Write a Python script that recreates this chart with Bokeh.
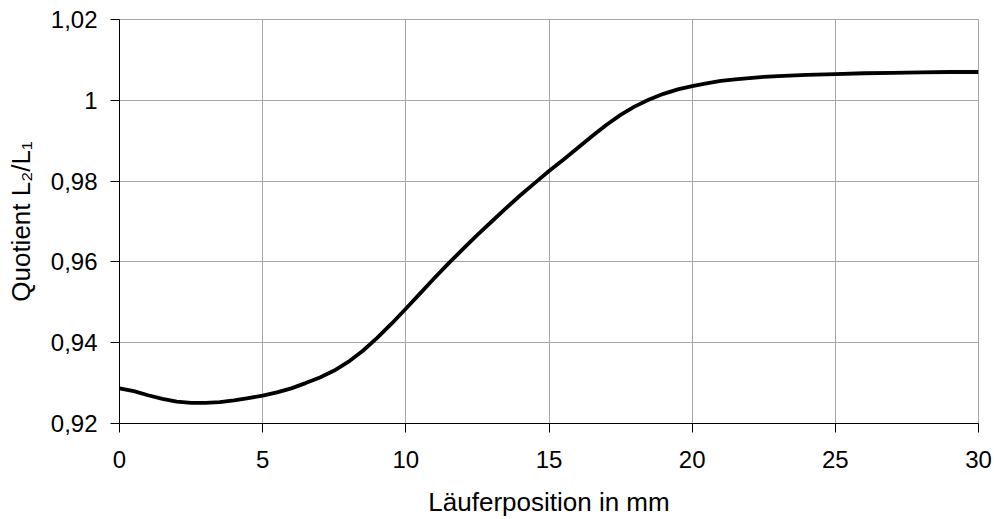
from bokeh.plotting import figure
from bokeh.models import FixedTicker, CustomJSTickFormatter, Range1d
from bokeh.embed import file_html
from bokeh.resources import INLINE

# Läuferposition (mm) and measured quotient L2/L1
position_mm = [0, 0.5, 1, 1.5, 2, 2.5, 3, 3.5, 4, 4.5, 5, 5.5, 6, 6.5, 7, 7.5,
               8, 8.5, 9, 9.5, 10, 10.5, 11, 11.5, 12, 12.5, 13, 13.5, 14, 14.5,
               15, 15.5, 16, 16.5, 17, 17.5, 18, 18.5, 19, 19.5, 20, 20.5, 21,
               21.5, 22, 22.5, 23, 24, 25, 26, 27, 28, 29, 30]
quotient = [0.9287, 0.9280, 0.9270, 0.9261, 0.9254, 0.9251, 0.9251, 0.9253,
            0.9257, 0.9263, 0.9269, 0.9277, 0.9287, 0.9300, 0.9314, 0.9331,
            0.9353, 0.9380, 0.9412, 0.9447, 0.9484, 0.9522, 0.9560, 0.9597,
            0.9632, 0.9667, 0.9700, 0.9733, 0.9765, 0.9795, 0.9825, 0.9853,
            0.9882, 0.9911, 0.9939, 0.9964, 0.9985, 1.0002, 1.0016, 1.0027,
            1.0035, 1.0042, 1.0048, 1.0052, 1.0055, 1.0058, 1.0060, 1.0063,
            1.0065, 1.0067, 1.0068, 1.0069, 1.0070, 1.0070]

x_ticks = [0, 5, 10, 15, 20, 25, 30]
y_ticks = [0.92, 0.94, 0.96, 0.98, 1.0, 1.02]

x_title = "Läuferposition in mm"
y_title = "Quotient L₂/L₁"

FONT = "Liberation Sans"
GRID = "#a6a6a6"

p = figure(width=994, height=519, output_backend="svg", toolbar_location=None,
           x_range=Range1d(0, 30), y_range=Range1d(0.92, 1.02),
           min_border_left=119, min_border_right=16,
           min_border_top=19, min_border_bottom=96)
p.background_fill_color = "white"
p.border_fill_color = "white"
p.outline_line_color = GRID
p.outline_line_width = 1

for ax in (p.xaxis[0], p.yaxis[0]):
    ax.axis_line_color = "black"
    ax.axis_line_width = 1
    ax.major_tick_in = 0
    ax.major_tick_out = 9
    ax.major_tick_line_color = "black"
    ax.minor_tick_line_color = None
    ax.major_label_text_font = FONT
    ax.major_label_text_font_size = "24px"
    ax.major_label_text_color = "black"
    ax.axis_label_text_font = FONT
    ax.axis_label_text_font_size = "26px"
    ax.axis_label_text_font_style = "normal"
    ax.axis_label_text_color = "black"

p.xaxis.axis_label = x_title
p.yaxis.axis_label = y_title
p.xaxis.ticker = FixedTicker(ticks=x_ticks)
p.yaxis.ticker = FixedTicker(ticks=y_ticks)
p.xaxis.major_label_standoff = 18
p.yaxis.major_label_standoff = 13
p.xaxis.axis_label_standoff = 16
p.yaxis.axis_label_standoff = 12
p.yaxis.formatter = CustomJSTickFormatter(
    code="return String(+tick.toFixed(2)).replace('.', ',');")

p.xgrid.ticker = FixedTicker(ticks=x_ticks)
p.ygrid.ticker = FixedTicker(ticks=y_ticks)
p.grid.grid_line_color = GRID
p.grid.grid_line_width = 1

p.line(position_mm, quotient, line_color="black", line_width=3.8,
       line_join="round")

open("out.html", "w").write(file_html(p, INLINE))
